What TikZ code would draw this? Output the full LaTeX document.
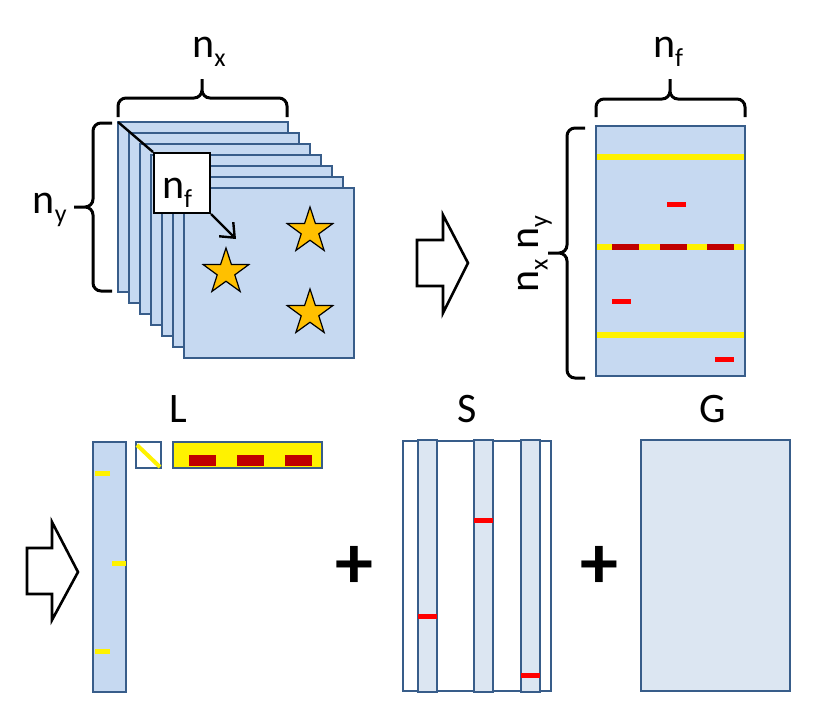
\documentclass[tikz,border=0pt]{standalone}
\usepackage{fontspec}
\setmainfont{Carlito}
\usetikzlibrary{shapes.geometric,arrows.meta}

\definecolor{matblue}{HTML}{C6D9F1}
\definecolor{matpale}{HTML}{DCE6F2}
\definecolor{matedge}{HTML}{385D8A}
\definecolor{darkred}{HTML}{C00000}
\definecolor{starorange}{HTML}{FFC000}

\newcommand{\lowidx}[1]{\raisebox{-0.23em}{\fontsize{13}{13}\selectfont #1}}

\begin{document}
\begin{tikzpicture}[x=0.5pt,y=-0.5pt,
    mat/.style={draw=matedge,line width=1pt},
    lbl/.style={inner sep=0pt,anchor=base,font=\fontsize{21}{25}\selectfont},
    curly/.style={rounded corners=4pt,line width=1.5pt},
    bigarrow/.style={draw=black,fill=white,line width=1.3pt,line join=miter},
    sign/.style={inner sep=0pt,font=\fontsize{38}{38}\selectfont\bfseries},
    starnode/.style={star,star points=5,star point ratio=2.6,minimum size=24pt,
      inner sep=0pt,draw=black,fill=starorange,line width=0.6pt}]
\useasboundingbox (0,0) rectangle (817,714);

% stack of frames
\foreach \k in {0,...,6}
    \draw[mat,fill=matblue] (118+11*\k,122+11*\k) rectangle ++(170,170);
\coordinate (corner) at (118,122);
\node[draw=black,fill=white,line width=1pt,minimum width=28pt,minimum height=30pt,inner sep=0pt] (nfbox) at (182,183) {};
\node[lbl] (nflab) at (177,198) {n\lowidx{f}};
\coordinate (arrowend) at (236,239);
\draw[line width=1.2pt] (corner) -- (nfbox.north west);
\draw[line width=1.2pt,-{Straight Barb[length=6pt,width=10pt]}] (nfbox.south east) -- (arrowend);

\node[starnode] (star1) at (310,231) {};
\node[starnode] (star2) at (226,272) {};
\node[starnode] (star3) at (310,313) {};

% braces of the stack
\coordinate (nxleft) at (118,117);
\coordinate (nxright) at (287,117);
\coordinate (nxmid) at (202,98);
\coordinate (nxtip) at (202,79);
\draw[curly] (nxleft) |- (nxmid) -- (nxtip) (nxright) |- (nxmid) -- (nxtip);
\node[lbl] (nx) at (209,57) {n\lowidx{x}};
\coordinate (nybot) at (112,291);
\coordinate (nytop) at (112,123);
\coordinate (nymid) at (93,207);
\coordinate (nytip) at (74,207);
\draw[curly] (nybot) -| (nymid) -- (nytip) (nytop) -| (nymid) -- (nytip);
\node[lbl,anchor=base east] (ny) at (67,213) {n\lowidx{y}};

% block arrow
\draw[bigarrow] (417,240) -- (443,240) -- (443,215) -- (468,263) -- (443,313) -- (443,286) -- (417,286) -- cycle;

% data matrix
\draw[mat,fill=matblue] (596,126) rectangle (745,376);
\foreach \y in {157,247,335}
    \draw[yellow,line width=3pt] (597,\y) -- (744,\y);
\foreach \x in {612,660,707}
    \draw[darkred,line width=3pt] (\x,247) -- ++(27,0);
\draw[red,line width=2.5pt] (667,204) -- (686,204);
\draw[red,line width=2.5pt] (612,301) -- (631,301);
\draw[red,line width=2.5pt] (715,359) -- (734,359);
\coordinate (nfleft) at (596,117);
\coordinate (nfright) at (745,117);
\coordinate (nfmid) at (670,99);
\coordinate (nftip) at (670,79);
\draw[curly] (nfleft) |- (nfmid) -- (nftip) (nfright) |- (nfmid) -- (nftip);
\node[lbl] (nf) at (668,57) {n\lowidx{f}};
\coordinate (nxybot) at (585,378);
\coordinate (nxytop) at (585,128);
\coordinate (nxymid) at (567,253);
\coordinate (nxytip) at (548,253);
\draw[curly] (nxybot) -| (nxymid) -- (nxytip) (nxytop) -| (nxymid) -- (nxytip);
\node[lbl,rotate=90] (nxy) at (538,254) {n\lowidx{x} n\lowidx{y}};

% bottom row
\draw[bigarrow] (27,548) -- (52,548) -- (52,522) -- (78,572) -- (52,620) -- (52,594) -- (27,594) -- cycle;

% L
\draw[mat,fill=matblue] (93,442) rectangle (126,692);
\draw[yellow,line width=2.5pt] (95,473) -- (110,473);
\draw[yellow,line width=2.5pt] (112,563) -- (126,563);
\draw[yellow,line width=2.5pt] (95,651) -- (110,651);
\draw[mat,fill=white] (136,442) rectangle (161,468);
\draw[yellow,line width=2pt] (137,445) -- (160,467);
\draw[mat,fill=yellow] (173,442) rectangle (322,468);
\foreach \x in {189,237,285}
    \fill[darkred] (\x,455) rectangle ++(27,11);
\node[lbl] (L) at (178,422) {L};

\node[sign] (plus1) at (354,567) {+};
\node[sign] (plus2) at (599,567) {+};

% S
\draw[mat,line width=0.8pt,fill=white] (403,441) rectangle (551,691);
\foreach \x/\r in {418/616,474/520,521/675} {
    \draw[mat,fill=matpale] (\x,440) rectangle ++(19,252);
    \draw[red,line width=2.5pt] (\x,\r) -- ++(19,0);
}
\node[lbl] (S) at (467,422) {S};

% G
\draw[mat,fill=matpale] (641,440) rectangle (790,691);
\node[lbl] (G) at (713,422) {G};
\end{tikzpicture}
\end{document}
